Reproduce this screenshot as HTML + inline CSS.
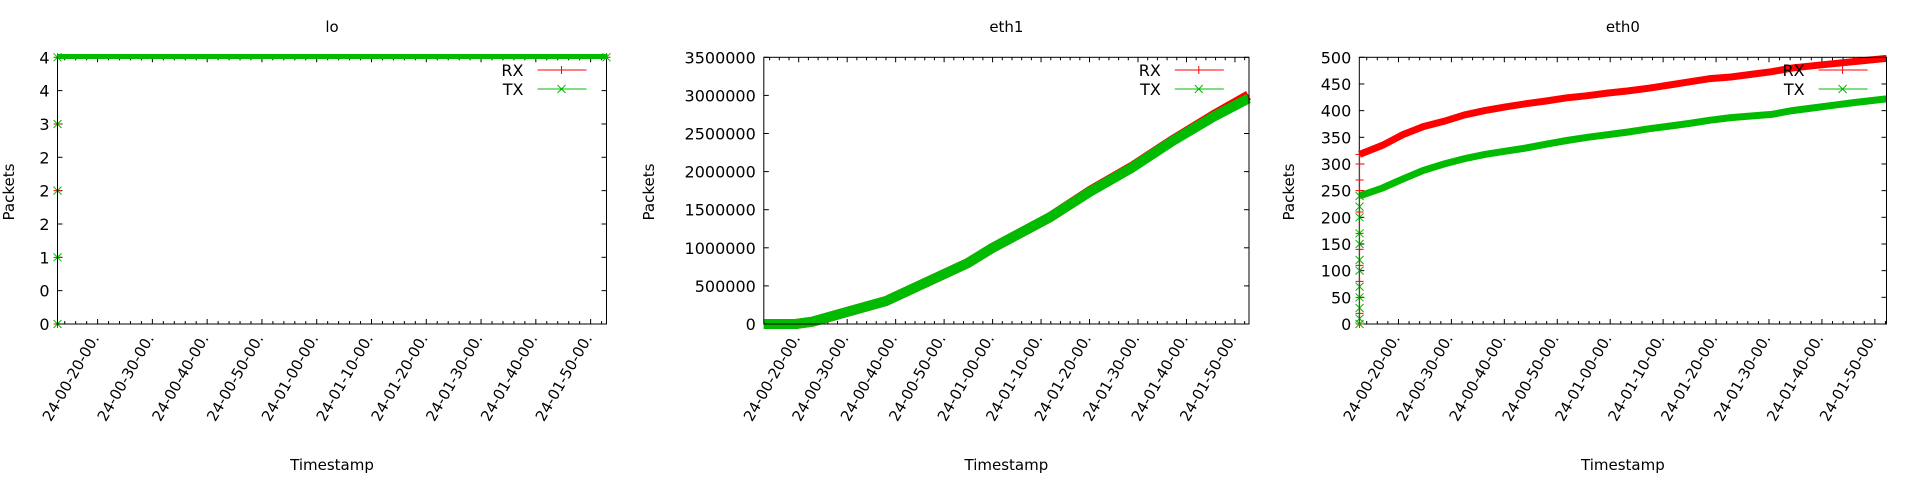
<!DOCTYPE html>
<html><head><meta charset="utf-8"><style>
html,body{margin:0;padding:0;background:#fff;}
svg{display:block;font-family:"DejaVu Sans","Liberation Sans",sans-serif;}
</style></head><body>
<svg id="root" width="1920" height="480" viewBox="0 0 1920 480" xmlns="http://www.w3.org/2000/svg"></svg>
<script>
// ---- data ----
const xTickLabels = ["24-00-20-00.","24-00-30-00.","24-00-40-00.","24-00-50-00.","24-01-00-00.","24-01-10-00.","24-01-20-00.","24-01-30-00.","24-01-40-00.","24-01-50-00."];
const xTickMinutes = [20,30,40,50,60,70,80,90,100,110];

const loTimes = [12.68,12.68,12.68,12.68,12.68,112.9];
const loRX = [0,1,2,3,4,4];
const loTX = [0,1,2,3,4,4];
const loYTicks = [0,0.5,1,1.5,2,2.5,3,3.5,4];
const loYTickLabels = ["0","0","1","2","2","2","3","4","4"];

const eth1Times = [12.8,19.4,22.8,29.5,38.0,46.4,54.9,60.0,71.8,80.2,88.7,97.1,105.6,112.8];
const eth1RX = [0,0,30000,150000,300000,550000,800000,1000000,1400000,1750000,2060000,2410000,2740000,3000000];
const eth1TX = [0,0,30000,150000,300000,550000,800000,1000000,1400000,1740000,2050000,2400000,2720000,2960000];
const eth1YTicks = [0,500000,1000000,1500000,2000000,2500000,3000000,3500000];
const eth1YTickLabels = ["0","500000","1000000","1500000","2000000","2500000","3000000","3500000"];

const eth0Times = [12.65,16.98,20.85,24.7,28.6,32.5,36.3,40.2,44.1,47.9,51.8,55.7,59.6,63.4,67.3,71.2,75.0,78.9,82.8,86.6,90.5,94.4,98.2,102.1,106.0,112.2];
const eth0RX = [318,335,355,370,380,392,400,407,413,418,424,428,433,437,442,448,454,460,463,468,473,480,484,488,492,498];
const eth0TX = [240,255,272,288,300,310,318,324,330,337,344,350,355,360,366,371,376,382,387,390,393,400,405,410,415,422];
const eth0StartRX = [0,20,50,80,110,140,170,210,250,270,300,318];
const eth0StartTX = [0,10,30,50,70,100,120,150,170,200,220,240];
const eth0YTicks = [0,50,100,150,200,250,300,350,400,450,500];
const eth0YTickLabels = ["0","50","100","150","200","250","300","350","400","450","500"];

const NS = "http://www.w3.org/2000/svg";
const root = document.getElementById("root");
function mk(tag, attrs, parent){const e=document.createElementNS(NS,tag);for(const k in attrs)e.setAttribute(k,attrs[k]);(parent||root).appendChild(e);return e;}
function txt(s, attrs, parent){const e=mk("text",attrs,parent);e.textContent=s;return e;}

function chart(cfg){
  const g = mk("g",{});
  
  
  const L=cfg.left,R=cfg.right,T=57.3,B=324;
  const sx=m=>L+(m-cfg.xmin)/(cfg.xmax-cfg.xmin)*(R-L);
  const sy=v=>B-(v-cfg.ymin)/(cfg.ymax-cfg.ymin)*(B-T);
  const t=txt(cfg.name,{x:(L+R)/2,y:32,"text-anchor":"middle","font-size":"15"},g);
  
  
  cfg.yTicks.forEach((v,i)=>{
    const y=sy(v);
    mk("line",{x1:L,x2:L+5,y1:y,y2:y,stroke:"#000"},g);
    mk("line",{x1:R,x2:R-5,y1:y,y2:y,stroke:"#000"},g);
    const lb=txt(cfg.yTickLabels[i],{x:L-8,y:y+6,"text-anchor":"end","font-size":"16"},g);
    
    
  });
  for(let m=Math.ceil(cfg.xmin/2)*2;m<=cfg.xmax;m+=2){
    const x=sx(m);const major=(m%10===0);const len=major?5:3;
    mk("line",{x1:x,x2:x,y1:B,y2:B-len,stroke:"#000"},g);
    mk("line",{x1:x,x2:x,y1:T,y2:T+len,stroke:"#000"},g);
  }
  xTickMinutes.forEach((m,i)=>{
    const x=sx(m);
    const lb=txt(xTickLabels[i],{x:x+2,y:338,"text-anchor":"end","font-size":"15",transform:`rotate(-60 ${x+2} 338)`},g);
    
    
  });
  const yl=txt("Packets",{x:cfg.yLabelX,y:192,"text-anchor":"middle","font-size":"15",transform:`rotate(-90 ${cfg.yLabelX} 192)`},g);
  
  
  const xl=txt("Timestamp",{x:(L+R)/2,y:470,"text-anchor":"middle","font-size":"15"},g);
  
  
  cfg.series.forEach(s=>{
    const pts=s.t.map((m,i)=>sx(m).toFixed(1)+","+sy(s.v[i]).toFixed(1)).join(" ");
    const pl=mk("polyline",{points:pts,fill:"none",stroke:s.color,"stroke-width":s.w},g);
    
    
    if(s.markers) s.t.forEach((m,i)=>marker(g,sx(m),sy(s.v[i]),s.color,s.kind));
  });
  const lx=cfg.left+cfg.legendOff;
  [["RX","#ff0000"],["TX","#00bb00"]].forEach((s,i)=>{
    const y=70+i*19;
    const lt=txt(s[0],{x:lx,y:y+6,"text-anchor":"end","font-size":"16"},g);
    
    
    mk("line",{x1:lx+14,x2:lx+63,y1:y,y2:y,stroke:s[1],"stroke-width":1},g);
    marker(g,lx+38,y,s[1],i===0?"plus":"cross");
  });
  mk("rect",{x:L,y:T,width:R-L,height:B-T,fill:"none",stroke:"#000","stroke-width":1},g);
  return {sx,sy,g};
}
function marker(g,x,y,c,kind){
  const d=4;
  if(kind==="plus"){mk("path",{d:`M${x-d} ${y}H${x+d}M${x} ${y-d}V${y+d}`,stroke:c,"stroke-width":1},g);}
  else{mk("path",{d:`M${x-d} ${y-d}L${x+d} ${y+d}M${x-d} ${y+d}L${x+d} ${y-d}`,stroke:c,"stroke-width":1},g);}
}

chart({name:"lo",left:57.5,right:606.5,xmin:12.68,xmax:112.9,ymin:0,ymax:4,yTicks:loYTicks,yTickLabels:loYTickLabels,yLabelX:14,legendOff:466,
  series:[{name:"lo-rx-line",t:loTimes,v:loRX,color:"#ff0000",w:1,markers:true,kind:"plus"},
          {name:"lo-tx-line",t:loTimes,v:loTX,color:"#00bb00",w:1,markers:true,kind:"cross"}]});
(function(){const e=mk("rect",{x:57.5,y:54,width:550,height:5,fill:"#00bb00"});})();

chart({name:"eth1",left:763.8,right:1249,xmin:12.8,xmax:112.9,ymin:0,ymax:3500000,yTicks:eth1YTicks,yTickLabels:eth1YTickLabels,yLabelX:654,legendOff:397,
  series:[{name:"eth1-rx-line",t:eth1Times,v:eth1RX,color:"#ff0000",w:10,markers:false},
          {name:"eth1-tx-line",t:eth1Times,v:eth1TX,color:"#00bb00",w:10,markers:false}]});

const c3=chart({name:"eth0",left:1359.3,right:1886.5,xmin:12.6,xmax:112.2,ymin:0,ymax:500,yTicks:eth0YTicks,yTickLabels:eth0YTickLabels,yLabelX:1294,legendOff:1804.6-1359.3,
  series:[{name:"eth0-rx-line",t:eth0Times,v:eth0RX,color:"#ff0000",w:7,markers:false},
          {name:"eth0-tx-line",t:eth0Times,v:eth0TX,color:"#00bb00",w:7,markers:false}]});
eth0StartRX.forEach(v=>marker(c3.g,c3.sx(eth0Times[0]),c3.sy(v),"#ff0000","plus"));
eth0StartTX.forEach(v=>marker(c3.g,c3.sx(eth0Times[0]),c3.sy(v),"#00bb00","cross"));
mk("line",{x1:c3.sx(eth0Times[0]),x2:c3.sx(eth0Times[0]),y1:c3.sy(0),y2:c3.sy(eth0RX[0]),stroke:"#ff0000"},c3.g);
</script>
</body></html>
